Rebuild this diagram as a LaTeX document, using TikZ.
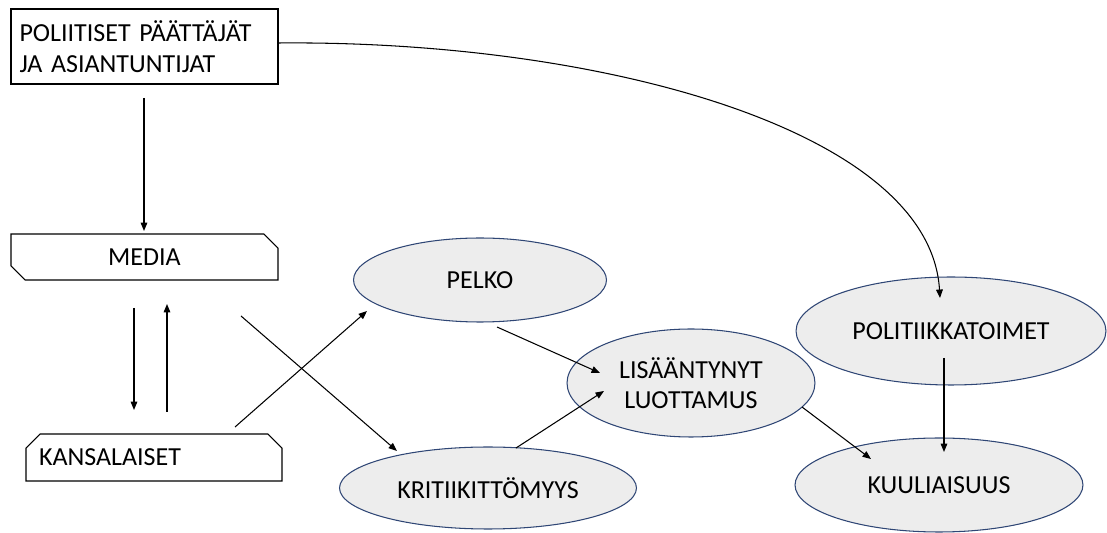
\documentclass[tikz,border=0pt]{standalone}
\usepackage{fontspec}
\setmainfont{Carlito}
\usetikzlibrary{shapes.geometric,shapes.misc,arrows.meta}
\definecolor{ellfill}{HTML}{EDEDED}
\definecolor{elldraw}{HTML}{2F4675}
\tikzset{
  lbl/.style={font=\fontsize{14.8pt}{17.4pt}\selectfont},
  bubble/.style={ellipse, draw=elldraw, fill=ellfill, line width=0.6pt, inner sep=0pt, lbl, align=center},
  conn/.style={line width=0.6pt, -{Triangle[length=4.8pt,width=3.8pt]}},
}
\begin{document}
\begin{tikzpicture}[x=0.02cm,y=-0.02cm]
\useasboundingbox (0,0) rectangle (1107,533);

% boxes
\node[draw, line width=0.6pt, rectangle, minimum width=5.34cm, minimum height=1.5cm,
      text width=5.0cm, inner xsep=0.17cm, align=left, lbl] (pol) at (144.5,46.5)
      {POLIITISET PÄÄTTÄJÄT\\JA ASIANTUNTIJAT};
\node[draw, line width=0.6pt, chamfered rectangle, chamfered rectangle corners={north east,south west},
      chamfered rectangle xsep=0.14cm, chamfered rectangle ysep=0.14cm,
      minimum width=5.34cm, minimum height=0.92cm, inner sep=0pt, lbl] (media) at (144.5,257) {MEDIA};
\node[draw, line width=0.6pt, chamfered rectangle, chamfered rectangle corners={north east,north west},
      chamfered rectangle xsep=0.14cm, chamfered rectangle ysep=0.14cm,
      minimum width=5.12cm, minimum height=0.94cm, inner ysep=0pt, inner xsep=0.12cm,
      text width=4.6cm, align=left, lbl] (kans) at (154,457.5) {KANSALAISET};

% ellipses
\node[bubble, minimum width=5.06cm, minimum height=1.68cm] (pelko) at (480,280) {PELKO};
\node[bubble, minimum width=4.96cm, minimum height=2.16cm] (lis) at (691,383) {LISÄÄNTYNYT\\LUOTTAMUS};
\node[bubble, minimum width=5.94cm, minimum height=1.64cm] (krit) at (488,488) {KRITIIKITTÖMYYS};
\node[bubble, minimum width=6.2cm, minimum height=2.16cm] (polit) at (951,331) {POLITIIKKATOIMET};
\node[bubble, minimum width=5.76cm, minimum height=1.88cm] (kuul) at (939,485) {KUULIAISUUS};

% connector end points
\coordinate (a1s) at (144,98);  \coordinate (a1e) at (144,231);
\coordinate (a2s) at (134,308); \coordinate (a2e) at (134,410);
\coordinate (a3s) at (167,412); \coordinate (a3e) at (167,304);
\coordinate (a4s) at (241,316); \coordinate (a4e) at (397,451);
\coordinate (a5s) at (235,427); \coordinate (a5e) at (367,311);
\coordinate (a6s) at (497,327); \coordinate (a6e) at (600,373);
\coordinate (a7s) at (516,448); \coordinate (a7e) at (604,391);
\coordinate (a8s) at (802,407); \coordinate (a8e) at (871,459);
\coordinate (a9s) at (944,358); \coordinate (a9e) at (944,452);
\coordinate (a10s) at (278,43); \coordinate (a10e) at (940,298);

\draw[conn] (a1s) -- (a1e);
\draw[conn] (a2s) -- (a2e);
\draw[conn] (a3s) -- (a3e);
\draw[conn] (a4s) -- (a4e);
\draw[conn] (a5s) -- (a5e);
\draw[conn] (a6s) -- (a6e);
\draw[conn] (a7s) -- (a7e);
\draw[conn] (a8s) -- (a8e);
\draw[conn] (a9s) -- (a9e);
\draw[conn] (a10s) .. controls (600,40) and (930,130) .. (a10e);
\end{tikzpicture}
\end{document}
